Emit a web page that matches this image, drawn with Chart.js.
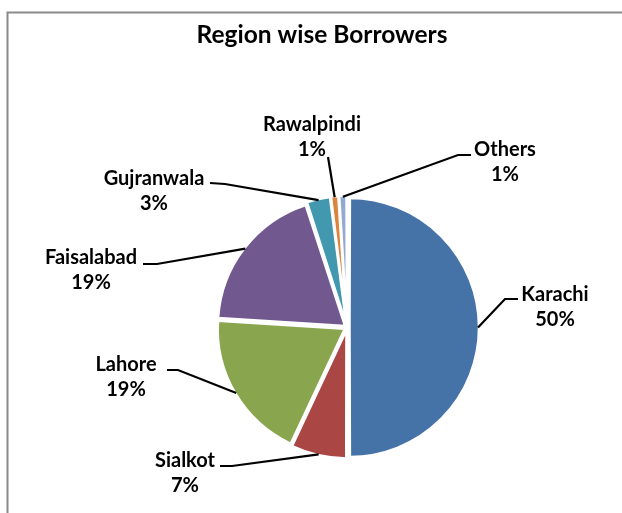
<!DOCTYPE html>
<html>
<head>
<meta charset="utf-8">
<title>Region wise Borrowers</title>
<script src="https://cdn.jsdelivr.net/npm/chart.js@4/dist/chart.umd.min.js"></script>
<style>
  html, body { margin: 0; padding: 0; background: #fff; }
  #wrap { width: 622px; height: 513px; }
</style>
</head>
<body>
<div id="wrap"><canvas id="grafica" width="622" height="513"></canvas></div>
<script>
const titulo = "Region wise Borrowers";
const regiones = ["Karachi", "Sialkot", "Lahore", "Faisalabad", "Gujranwala", "Rawalpindi", "Others"];
const prestatarios = [50, 7, 19, 19, 3, 1, 1];
const colores = ["#4572A7", "#AA4643", "#89A54E", "#71588F", "#4198AF", "#DB843D", "#93A9CF"];

// where each label sits: text centre of the name line, then the knee and end of the leader
const etiquetaXY = [[555, 295], [185, 461], [126, 365], [91, 258], [154, 179], [312, 125], [505, 150]];
const codoXY = [[505, 299], [232, 466], [178, 370], [157, 264], [225, 184], [328, 157], [458, 155]];
const finXY = [[518, 299], [220, 466], [167, 370], [143, 264], [210, 183], [328, 157], [471, 155]];

const fuente = "Lato, 'Open Sans', sans-serif";

// marco gris y titulo
const marco = {
  id: "marco",
  beforeDraw(chart) {
    const ctx = chart.ctx;
    ctx.save();
    ctx.strokeStyle = "#8a8a8a";
    ctx.lineWidth = 2;
    ctx.beginPath();
    ctx.moveTo(7.5, 513);
    ctx.lineTo(7.5, 12.5);
    ctx.lineTo(622, 12.5);
    ctx.stroke();
    ctx.fillStyle = "#000";
    ctx.font = "bold 24.5px " + fuente;
    ctx.textAlign = "center";
    ctx.textBaseline = "middle";
    ctx.fillText(titulo, 322, 35);
    ctx.restore();
  }
};

// etiquetas con lineas guia
const etiquetas = {
  id: "etiquetas",
  afterDatasetsDraw(chart) {
    const ctx = chart.ctx;
    const meta = chart.getDatasetMeta(0);
    const total = prestatarios.reduce((a, b) => a + b, 0);
    ctx.save();
    meta.data.forEach((arc, i) => {
      const p = arc.getProps(["x", "y", "startAngle", "endAngle", "outerRadius", "circumference"], true);
      const medio = (p.startAngle + p.endAngle) / 2;
      const off = (arc.options.offset || 0) / 4;
      const t = off * (2 - Math.sin(Math.min(Math.PI, p.circumference)));
      const r = p.outerRadius + t - 1;
      const x0 = p.x + Math.cos(medio) * r;
      const y0 = p.y + Math.sin(medio) * r;

      ctx.strokeStyle = "#000";
      ctx.lineWidth = 2.2;
      ctx.beginPath();
      ctx.moveTo(x0, y0);
      ctx.lineTo(codoXY[i][0], codoXY[i][1]);
      ctx.lineTo(finXY[i][0], finXY[i][1]);
      ctx.stroke();

      ctx.fillStyle = "#000";
      ctx.font = "bold 20px " + fuente;
      ctx.textAlign = "center";
      ctx.textBaseline = "middle";
      const [tx, ty] = etiquetaXY[i];
      ctx.fillText(regiones[i], tx, ty);
      ctx.fillText(Math.round(prestatarios[i] / total * 100) + "%", tx, ty + 25);
    });
    ctx.restore();
  }
};

new Chart(document.getElementById("grafica"), {
  type: "pie",
  data: {
    labels: regiones,
    datasets: [{
      data: prestatarios,
      backgroundColor: colores,
      borderColor: "#ffffff",
      borderWidth: 2.5,
      offset: 10,
      hoverOffset: 0
    }]
  },
  options: {
    responsive: false,
    animation: false,
    events: [],
    radius: 127,
    layout: { padding: { left: 180, right: 108, top: 180, bottom: 38 } },
    plugins: {
      legend: { display: false },
      title: { display: false },
      tooltip: { enabled: false }
    }
  },
  plugins: [marco, etiquetas]
});
</script>
</body>
</html>
